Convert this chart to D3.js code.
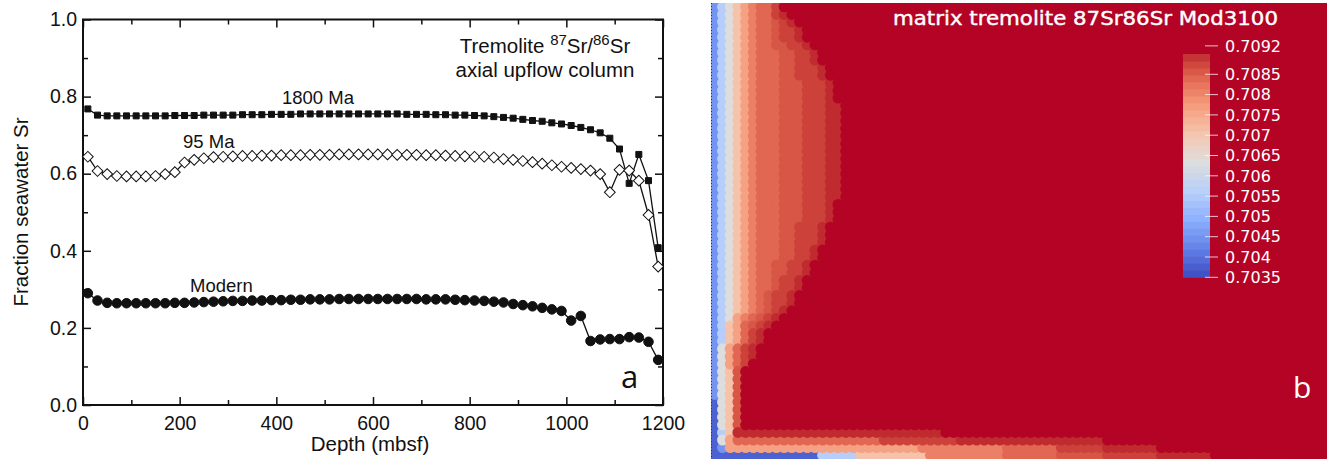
<!DOCTYPE html>
<html>
<head>
<meta charset="utf-8">
<script src="https://cdn.jsdelivr.net/npm/d3@7"></script>
<style>
  body { margin: 0; background: #fff; }
  svg { display: block; }
</style>
</head>
<body>
<div id="chart"></div>
<script>
// ---- panel a: fraction seawater Sr vs depth ----
const depths = [10, 30, 50, 70, 90, 110, 130, 150, 170, 190, 210, 230, 250, 270, 290, 310, 330, 350, 370, 390,
  410, 430, 450, 470, 490, 510, 530, 550, 570, 590, 610, 630, 650, 670, 690, 710, 730, 750, 770, 790,
  810, 830, 850, 870, 890, 910, 930, 950, 970, 990, 1010, 1030, 1050, 1070, 1090, 1110, 1130, 1150, 1170, 1190];

const sr1800 = [0.768, 0.752, 0.750, 0.750, 0.750, 0.750, 0.750, 0.750, 0.750, 0.751, 0.751, 0.751, 0.752, 0.752, 0.752,
  0.752, 0.753, 0.753, 0.753, 0.754, 0.754, 0.754, 0.755, 0.755, 0.755, 0.755, 0.755, 0.755, 0.755, 0.755,
  0.755, 0.755, 0.755, 0.754, 0.754, 0.754, 0.753, 0.753, 0.752, 0.752, 0.751, 0.750, 0.748, 0.746, 0.744,
  0.741, 0.738, 0.736, 0.732, 0.729, 0.725, 0.720, 0.714, 0.706, 0.692, 0.664, 0.575, 0.650, 0.582, 0.408];

const sr95 = [0.644, 0.607, 0.599, 0.594, 0.593, 0.593, 0.593, 0.594, 0.599, 0.604, 0.629, 0.636, 0.640, 0.643, 0.644,
  0.645, 0.646, 0.646, 0.647, 0.647, 0.648, 0.648, 0.648, 0.649, 0.649, 0.649, 0.650, 0.650, 0.650, 0.650,
  0.650, 0.650, 0.649, 0.649, 0.649, 0.648, 0.648, 0.647, 0.646, 0.645, 0.644, 0.644, 0.642, 0.638, 0.636,
  0.633, 0.630, 0.626, 0.622, 0.618, 0.615, 0.612, 0.608, 0.599, 0.552, 0.610, 0.608, 0.582, 0.493, 0.359];

const srModern = [0.290, 0.271, 0.265, 0.264, 0.264, 0.264, 0.264, 0.264, 0.264, 0.265, 0.265, 0.266, 0.267, 0.268, 0.269,
  0.270, 0.270, 0.271, 0.271, 0.272, 0.272, 0.273, 0.273, 0.274, 0.274, 0.274, 0.275, 0.275, 0.275, 0.275,
  0.275, 0.275, 0.275, 0.275, 0.275, 0.274, 0.274, 0.274, 0.273, 0.272, 0.271, 0.270, 0.268, 0.266, 0.262,
  0.259, 0.256, 0.252, 0.248, 0.244, 0.219, 0.231, 0.166, 0.170, 0.171, 0.171, 0.176, 0.175, 0.164, 0.117];

const seriesNames = ["1800 Ma", "95 Ma", "Modern"];
const xTicks = [0, 200, 400, 600, 800, 1000, 1200];
const xMinorTicks = [100, 300, 500, 700, 900, 1100];
const yTicks = [0, 0.2, 0.4, 0.6, 0.8, 1.0];
const yMinorTicks = [0.1, 0.3, 0.5, 0.7, 0.9];

// ---- panel b: simulated tremolite 87Sr/86Sr field ----
const legendTicks = [0.7092, 0.7085, 0.708, 0.7075, 0.707, 0.7065, 0.706, 0.7055, 0.705, 0.7045, 0.704, 0.7035];
const levelCodes = ["a", "b", "c", "d", "e", "f", "g", "h", "i", "j", "k", "l"];
const levelValues = [0.7038, 0.7045, 0.7056, 0.70635, 0.7071, 0.70765, 0.7081, 0.7084, 0.7086, 0.7088, 0.7090, 0.7092];
// one entry per cell row (top to bottom), run-length codes from the left edge; the rest is level "l"
const fieldRuns = [
  "b c d e f g h2 j",
  "b c d e f g h2 j k",
  "b c d e f g h2 i j k",
  "b c d e f g h2 i j2 k",
  "b c d e f g h2 i j2 k",
  "b c d e f g h2 i2 j2 k",
  "b c d e f g h3 i2 j2 k",
  "b c d e f g h3 i2 j2 k",
  "b c d e f g h3 i2 j3 k",
  "b c d e f g h3 i2 j3 k",
  "b c d e f g h3 i3 j3 k",
  "b c d e f g h3 i3 j3 k",
  "b c d e f g h3 i3 j3 k",
  "b c d e f g h3 i3 j3 k2",
  "b c d e f g h3 i3 j3 k2",
  "b c d e f g h3 i3 j3 k2",
  "b c d e f g h3 i3 j3 k2",
  "b c d e f g h3 i3 j3 k2",
  "b c d e f g h3 i3 j3 k2",
  "b c d e f g h3 i3 j3 k2",
  "b c d e f g h3 i3 j3 k2",
  "b c d e f g h3 i3 j3 k2",
  "b c d e f g h3 i3 j3 k2",
  "b c d e f g h3 i3 j3 k2",
  "b c d e f g h3 i3 j3 k2",
  "b c d e f g h3 i3 j3 k2",
  "b c d e f g h3 i3 j3 k",
  "b c d e f g h3 i3 j3 k",
  "b c d e f g h3 i3 j3 k",
  "b c d e f g h3 i2 j3 k",
  "b c d e f g h3 i2 j3 k",
  "b c d e f g h3 i2 j3 k",
  "b c d e f g h3 i2 j2 k",
  "b c d e f g h3 i2 j2 k",
  "b c d e f g h2 i2 j2 k",
  "b c d e f g h2 i2 j2 k",
  "b c d e f g h2 i j2 k",
  "b c d e f g h2 i j2 k",
  "b c d e f g h i j2 k",
  "b c d e f g h i j2 k",
  "b c d e f g h i j k",
  "b c d f g h i j k",
  "b c e f h i j k",
  "b c e f h j k",
  "b c e f h j k",
  "b d f h j k",
  "b d f h j k",
  "b d f h j",
  "b d e i",
  "b d e i",
  "b d e i",
  "b d e i",
  "a d e i",
  "a d e i",
  "a d e i",
  "a d e i",
  "a c e k27",
  "a d f h19 j10 k19",
  "a b f25 g11 h7 j6 k7",
  "a14 c5 e9 g10 h7 i6 j7 k7"
];

const coolWarm = ["#3b4cc0", "#6282ea", "#8db0fe", "#b8d0f9", "#dddddd", "#f5c4ad", "#f49a7b", "#de604d", "#b40426"];

const width = 1327;
const height = 459;
const fieldCols = 80;

const svg = d3.select("#chart").append("svg")
  .attr("width", width)
  .attr("height", height);

// ================= panel a =================
const x = d3.scaleLinear([0, 1200], [83, 663]);
const y = d3.scaleLinear([0, 1], [405, 19.5]);

const tickStyle = g => {
  g.select(".domain").remove();
  g.selectAll(".tick line").attr("stroke", "#111").attr("stroke-width", 1.5);
  g.selectAll(".tick text")
    .attr("fill", "#111")
    .style("font-family", "'Liberation Sans', Arial, sans-serif")
    .style("font-size", "19.5px");
};

const axes = selection => {
  selection.append("g").attr("transform", `translate(0,${y(0)})`)
    .call(d3.axisBottom(x).tickValues(xTicks).tickSizeInner(-8).tickSizeOuter(0).tickPadding(11).tickFormat(d3.format("d")))
    .call(tickStyle);
  selection.append("g").attr("transform", `translate(0,${y(0)})`)
    .call(d3.axisBottom(x).tickValues(xMinorTicks).tickSizeInner(-5).tickSizeOuter(0).tickFormat(""))
    .call(tickStyle);
  selection.append("g").attr("transform", `translate(0,${y(1)})`)
    .call(d3.axisTop(x).tickValues(xTicks).tickSizeInner(-8).tickSizeOuter(0).tickFormat(""))
    .call(tickStyle);
  selection.append("g").attr("transform", `translate(0,${y(1)})`)
    .call(d3.axisTop(x).tickValues(xMinorTicks).tickSizeInner(-5).tickSizeOuter(0).tickFormat(""))
    .call(tickStyle);
  selection.append("g").attr("transform", `translate(${x(0)},0)`)
    .call(d3.axisLeft(y).tickValues(yTicks).tickSizeInner(-8).tickSizeOuter(0).tickPadding(6).tickFormat(d3.format(".1f")))
    .call(tickStyle);
  selection.append("g").attr("transform", `translate(${x(0)},0)`)
    .call(d3.axisLeft(y).tickValues(yMinorTicks).tickSizeInner(-5).tickSizeOuter(0).tickFormat(""))
    .call(tickStyle);
  selection.append("g").attr("transform", `translate(${x(1200)},0)`)
    .call(d3.axisRight(y).tickValues(yTicks).tickSizeInner(-8).tickSizeOuter(0).tickFormat(""))
    .call(tickStyle);
  selection.append("g").attr("transform", `translate(${x(1200)},0)`)
    .call(d3.axisRight(y).tickValues(yMinorTicks).tickSizeInner(-5).tickSizeOuter(0).tickFormat(""))
    .call(tickStyle);

  selection.append("rect")
    .attr("x", x(0)).attr("y", y(1))
    .attr("width", x(1200) - x(0)).attr("height", y(0) - y(1))
    .attr("fill", "none").attr("stroke", "#111").attr("stroke-width", 2);
};

const series = [
  { name: seriesNames[0], values: sr1800, symbol: d3.symbolSquare, size: 36, fill: "#111", rotate: 0 },
  { name: seriesNames[1], values: sr95, symbol: d3.symbolSquare, size: 58, fill: "#fff", rotate: 45 },
  { name: seriesNames[2], values: srModern, symbol: d3.symbolCircle, size: 72, fill: "#111", rotate: 0 }
];

const curves = selection => {
  let line = d3.line()
    .x((v, i) => x(depths[i]))
    .y(v => y(v));
  selection.selectAll(".curve")
    .data(series)
    .join("path")
    .attr("class", "curve")
    .attr("fill", "none")
    .attr("stroke", "#111")
    .attr("stroke-width", 1.3)
    .attr("d", d => line(d.values));
  selection.selectAll(".markers")
    .data(series)
    .join("g")
    .attr("class", "markers")
    .each(function (s) {
      d3.select(this).selectAll("path")
        .data(s.values)
        .join("path")
        .attr("d", d3.symbol(s.symbol, s.size))
        .attr("transform", (v, i) => `translate(${x(depths[i])},${y(v)}) rotate(${s.rotate})`)
        .attr("fill", s.fill)
        .attr("stroke", "#111")
        .attr("stroke-width", 1);
    });
};

const labelsA = selection => {
  let font = "'Liberation Sans', Arial, sans-serif";
  let t = selection.append("g").style("font-family", font).attr("fill", "#111");
  t.append("text").attr("x", 282).attr("y", 104).style("font-size", "18.5px").text(seriesNames[0]);
  t.append("text").attr("x", 183).attr("y", 148).style("font-size", "18.5px").text(seriesNames[1]);
  t.append("text").attr("x", 190).attr("y", 292).style("font-size", "18.5px").text(seriesNames[2]);

  let title = t.append("text").attr("x", 545).attr("y", 53)
    .attr("text-anchor", "middle").style("font-size", "20.5px");
  title.append("tspan").text("Tremolite ");
  title.append("tspan").attr("dy", -8).style("font-size", "15px").text("87");
  title.append("tspan").attr("dy", 8).text("Sr/");
  title.append("tspan").attr("dy", -8).style("font-size", "15px").text("86");
  title.append("tspan").attr("dy", 8).text("Sr");
  t.append("text").attr("x", 545).attr("y", 77)
    .attr("text-anchor", "middle").style("font-size", "20.5px").text("axial upflow column");

  t.append("text").attr("x", 370).attr("y", 451)
    .attr("text-anchor", "middle").style("font-size", "20.5px").text("Depth (mbsf)");
  t.append("text").attr("transform", "translate(28,212) rotate(-90)")
    .attr("text-anchor", "middle").style("font-size", "20.5px").text("Fraction seawater Sr");

  t.append("text").attr("x", 621).attr("y", 388)
    .style("font-family", "'Open Sans', sans-serif").style("font-size", "31px").text("a");
};

svg.append("g").call(axes).call(curves).call(labelsA);

// ================= panel b =================
const panelB = { x0: 711, x1: 1327, y0: 3, y1: 459 };
const bx = d3.scaleLinear([0, fieldCols], [panelB.x0, panelB.x1]);
const by = d3.scaleLinear([0, fieldRuns.length], [panelB.y0, panelB.y1]);

const color = d3.scaleLinear()
  .domain(d3.quantize(d3.interpolateNumber(0.7035, 0.7092), coolWarm.length))
  .range(coolWarm)
  .interpolate(d3.interpolateLab)
  .clamp(true);

const parseRun = row => row.split(" ").flatMap(tok => Array(+(tok.slice(1) || 1)).fill(tok[0]));

let cells = [];
fieldRuns.forEach((row, r) => {
  let codes = parseRun(row);
  for (let c = 0; c < fieldCols; c++) {
    let code = codes[c] || "l";
    cells.push({ r, c, value: levelValues[levelCodes.indexOf(code)] });
  }
});
cells.sort((a, b) => a.value - b.value);

const field = selection => {
  selection.append("clipPath").attr("id", "clip-b")
    .append("rect")
    .attr("x", panelB.x0).attr("y", panelB.y0)
    .attr("width", panelB.x1 - panelB.x0).attr("height", panelB.y1 - panelB.y0);
  let g = selection.append("g").attr("clip-path", "url(#clip-b)");
  g.append("rect")
    .attr("x", panelB.x0).attr("y", panelB.y0)
    .attr("width", panelB.x1 - panelB.x0).attr("height", panelB.y1 - panelB.y0)
    .attr("fill", color(0.7092));
  let cw = bx(1) - bx(0);
  let ch = by(1) - by(0);
  g.selectAll(".cell")
    .data(cells)
    .join("circle")
    .attr("class", "cell")
    .attr("cx", d => bx(d.c + 0.5))
    .attr("cy", d => by(d.r + 0.5))
    .attr("r", Math.hypot(cw, ch) / 2 + 0.1)
    .attr("fill", d => color(d.value));
  selection.append("line")
    .attr("x1", panelB.x0 + 0.5).attr("x2", panelB.x0 + 0.5)
    .attr("y1", panelB.y0).attr("y2", panelB.y1)
    .attr("stroke", "#333").attr("stroke-width", 1).attr("stroke-dasharray", "1,2");
};

const legend = selection => {
  let ly = d3.scaleLinear([0.7035, 0.7085], [277.3, 74.3]);
  let steps = 32;
  let top = 0.7090;
  let bands = d3.range(steps).map(i => [0.7035 + (top - 0.7035) * i / steps, 0.7035 + (top - 0.7035) * (i + 1) / steps]);
  let g = selection.append("g");
  g.selectAll(".band")
    .data(bands)
    .join("rect")
    .attr("class", "band")
    .attr("x", 1183).attr("width", 27)
    .attr("y", d => ly(d[1]))
    .attr("height", d => ly(d[0]) - ly(d[1]) + 0.5)
    .attr("fill", d => color((d[0] + d[1]) / 2));
  g.selectAll(".legend-tick")
    .data(legendTicks)
    .join("line")
    .attr("class", "legend-tick")
    .attr("x1", 1205).attr("x2", 1218)
    .attr("y1", d => ly(d)).attr("y2", d => ly(d))
    .attr("stroke", "#fff").attr("stroke-opacity", 0.75).attr("stroke-width", 1);
  g.selectAll(".legend-label")
    .data(legendTicks)
    .join("text")
    .attr("class", "legend-label")
    .attr("x", 1225)
    .attr("y", d => ly(d))
    .attr("dy", "0.36em")
    .attr("fill", "#fff")
    .style("font-family", "'DejaVu Sans', sans-serif")
    .style("font-size", "16px")
    .text(d => String(d));
};

const labelsB = selection => {
  selection.append("text")
    .attr("x", 893).attr("y", 25)
    .attr("textLength", 385).attr("lengthAdjust", "spacingAndGlyphs")
    .attr("fill", "#fff").attr("stroke", "#fff").attr("stroke-width", 0.4)
    .style("font-family", "'DejaVu Sans', sans-serif")
    .style("font-size", "19px")
    .text("matrix tremolite 87Sr86Sr Mod3100");
  selection.append("text")
    .attr("x", 1293).attr("y", 398)
    .attr("fill", "#fff")
    .style("font-family", "'Open Sans', sans-serif")
    .style("font-size", "30px")
    .text("b");
};

svg.append("g").call(field).call(legend).call(labelsB);
</script>
</body>
</html>
